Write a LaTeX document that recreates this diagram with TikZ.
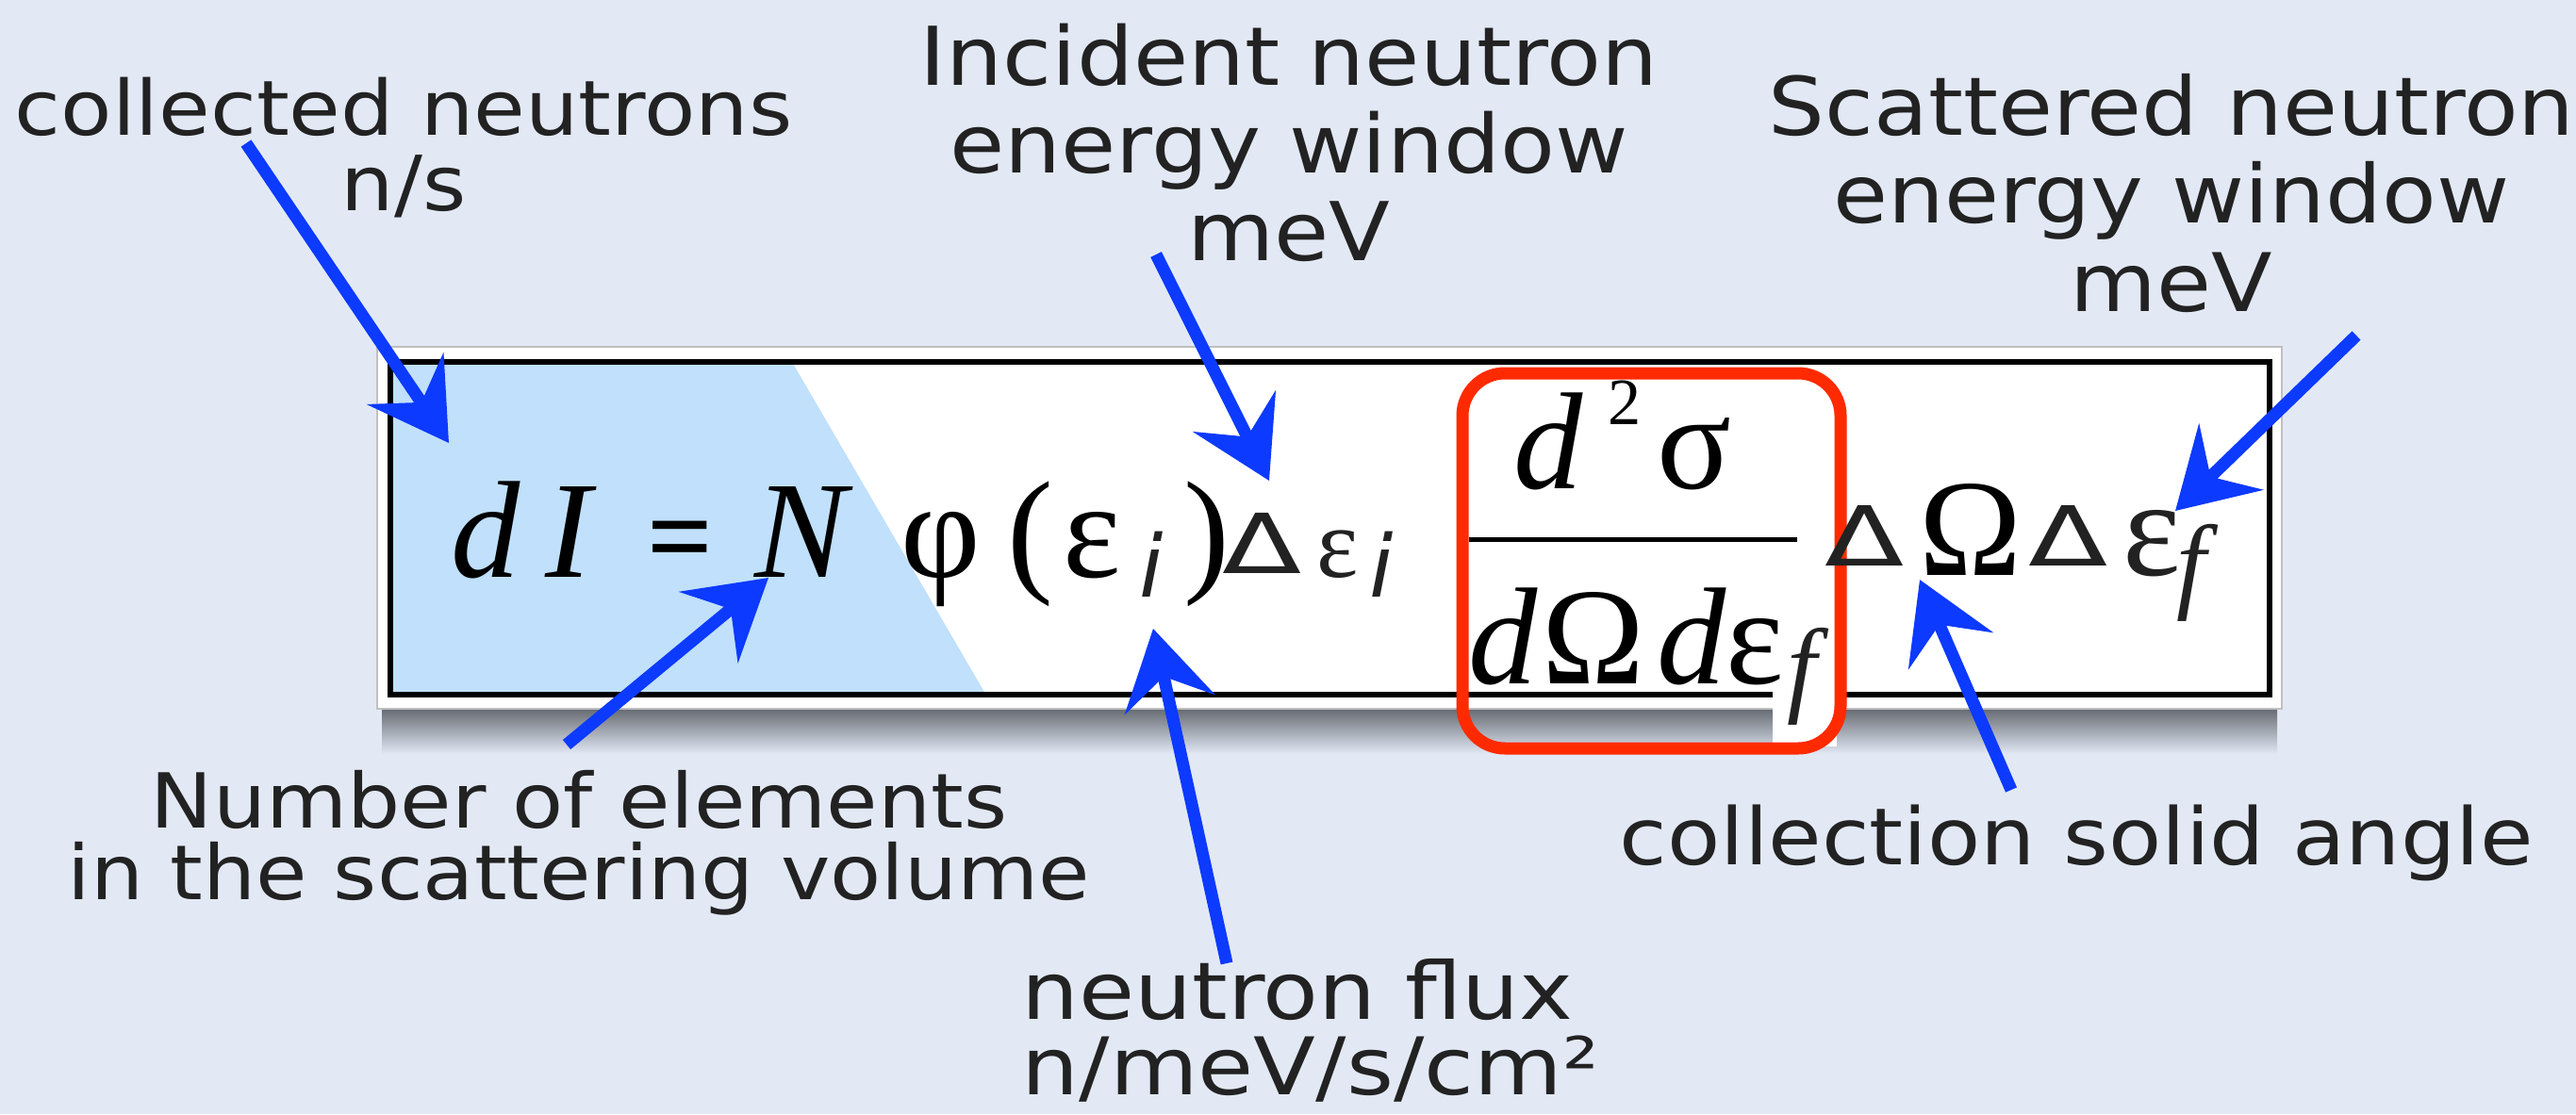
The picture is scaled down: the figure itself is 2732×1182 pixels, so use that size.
\documentclass[tikz,border=0pt]{standalone}
\usepackage{fontspec}
\usepackage{graphicx}
\usetikzlibrary{arrows.meta}
\setmainfont{Liberation Serif}
\newfontfamily\hand[FakeStretch=1.1]{DejaVu Sans}
\newfontfamily\handwide[FakeStretch=1.14]{DejaVu Sans}
\newfontfamily\handsym{DejaVu Sans}
\newfontfamily\tms{Liberation Serif}
\definecolor{bgpaper}{RGB}{226,233,245}
\definecolor{penblue}{RGB}{12,58,255}
\definecolor{boxred}{RGB}{255,42,0}
\definecolor{inkgray}{RGB}{34,34,34}
\definecolor{lightblue}{RGB}{192,224,251}
\definecolor{shadowgray}{RGB}{92,96,104}
\newcommand\clines[2]{\vtop{\baselineskip=#1\lineskiplimit=-100pt\lineskip=0pt\halign{\hfil##\hfil\cr#2\crcr}}}
\newcommand\llines[2]{\vtop{\baselineskip=#1\lineskiplimit=-100pt\lineskip=0pt\halign{##\hfil\cr#2\crcr}}}
\newcommand\hDelta{\scalebox{1.4}[1]{Δ}}
\tikzset{
  lbl/.style={inner sep=0pt, text=inkgray},
  mth/.style={inner sep=0pt, anchor=base west, font=\tms\fontsize{41.7}{48}\selectfont},
  mthi/.style={inner sep=0pt, anchor=base west, font=\tms\itshape\fontsize{41.7}{48}\selectfont},
  hnd/.style={inner sep=0pt, anchor=base west, text=inkgray},
  hdelta/.style={hnd, font=\handsym\fontsize{25}{28}\selectfont},
  hsubi/.style={hnd, font=\handsym\itshape\fontsize{26}{30}\selectfont},
  hsubf/.style={hnd, font=\tms\itshape\fontsize{32}{36}\selectfont},
  penarrow/.style={draw=penblue, line width=1.3mm, -{Stealth[length=8.2mm,width=9.7mm,inset=3mm]}}
}
\begin{document}
\begin{tikzpicture}[x=0.1mm, y=-0.1mm]
\useasboundingbox (0,0) rectangle (2732,1182);
\fill[bgpaper] (0,0) rectangle (2732,1182);
% shadow and frame
\shade[top color=shadowgray, bottom color=bgpaper] (405,748) rectangle (2415,800);
\fill[white, draw=black!25, line width=0.2mm] (400,368) rectangle (2420,752);
\fill[lightblue] (416,384) -- (840,384) -- (1045,736) -- (416,736) -- cycle;
\draw[black, line width=0.55mm] (414,384) rectangle (2407,737);
\fill[white] (1880,728) rectangle (1948,792);
% red highlight
\draw[boxred, line width=1.3mm, rounded corners=4.5mm] (1551,396) rectangle (1952,794);
% formula
\node[mthi] (fd) at (478,612) {d};
\node[mthi] (fI) at (578,612) {I};
\node[inner sep=0pt, anchor=base west, font=\tms\bfseries\fontsize{35}{40}\selectfont] (feq) at (686,610) {=};
\node[mthi] (fN) at (800,612) {N};
\node[mth] (fphi) at (955,612) {φ};
\node[mth] (flp) at (1068,612) {(};
\node[mth] (feps) at (1127,612) {ε};
\node[hsubi] (fi1) at (1208,633) {i};
\node[mth] (frp) at (1255,612) {)};
\node[hdelta] (fD1) at (1296,608) {\hDelta};
\node[hnd, font=\tms\fontsize{30}{34}\selectfont] (fe1) at (1396,612) {ε};
\node[hsubi] (fi2) at (1452,633) {i};
\node[mthi] (nd) at (1605,518) {d};
\node[inner sep=0pt, anchor=base west, font=\tms\fontsize{20}{24}\selectfont] (n2) at (1705,450) {2};
\node[mth] (nsig) at (1757,518) {σ};
\coordinate (barL) at (1558,572);
\coordinate (barR) at (1906,572);
\draw[line width=0.5mm] (barL) -- (barR);
\node[mthi] (dd) at (1557,725) {d};
\node[mth] (dOm) at (1635,725) {Ω};
\node[mthi] (dd2) at (1757,725) {d};
\node[mth] (deps) at (1830,725) {ε};
\node[hsubf] (df) at (1895,745) {f};
\node[hdelta] (gD) at (1935,600) {\hDelta};
\node[mth] (gOm) at (2035,610) {Ω};
\node[hdelta] (gD2) at (2151,600) {\hDelta};
\node[mth, text=inkgray] (geps) at (2251,610) {ε};
\node[hsubf] (gf) at (2308,635) {f};
% labels
\node[lbl, anchor=base, font=\hand\fontsize{23}{28}\selectfont] (collected) at (428,143) {\clines{22.8pt}{collected neutrons\cr n/s}};
\node[lbl, anchor=base, font=\hand\fontsize{24.5}{28}\selectfont] (incident) at (1367,90) {\clines{26.6pt}{Incident neutron\cr energy window\cr meV}};
\node[lbl, anchor=base, font=\hand\fontsize{24.4}{28}\selectfont] (scattered) at (2303,143) {\clines{26.7pt}{Scattered neutron\cr energy window\cr meV}};
\node[lbl, anchor=base, font=\hand\fontsize{22.9}{26}\selectfont] (number) at (614,878) {\clines{21.9pt}{Number of elements\cr in the scattering volume}};
\node[lbl, anchor=base, font=\hand\fontsize{23.8}{28}\selectfont] (solid) at (2202,917) {collection solid angle};
\node[lbl, anchor=base west, font=\handwide\fontsize{24}{28}\selectfont] (flux) at (1083,1081) {\llines{23pt}{neutron flux\cr n/meV/s/cm²}};
% arrows
\coordinate (t1) at (261,152);   \coordinate (h1) at (476,470);
\coordinate (t2) at (1226,270);  \coordinate (h2) at (1346,510);
\coordinate (t3) at (2499,356);  \coordinate (h3) at (2307,542);
\coordinate (t4) at (601,790);   \coordinate (h4) at (815,613);
\coordinate (t5) at (1301,1022); \coordinate (h5) at (1223,667);
\coordinate (t6) at (2133,838);  \coordinate (h6) at (2036,615);
\draw[penarrow] (t1) -- (h1);
\draw[penarrow] (t2) -- (h2);
\draw[penarrow] (t3) -- (h3);
\draw[penarrow] (t4) -- (h4);
\draw[penarrow] (t5) -- (h5);
\draw[penarrow] (t6) -- (h6);
\end{tikzpicture}
\end{document}
